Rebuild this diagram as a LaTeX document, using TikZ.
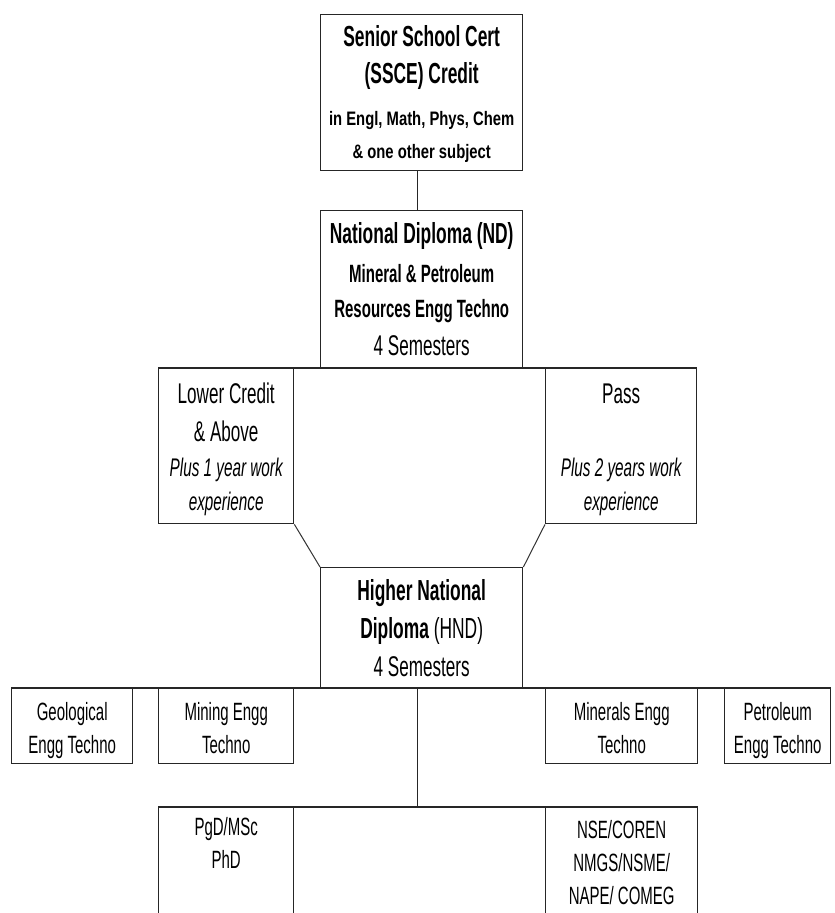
\documentclass[tikz,border=0pt]{standalone}
\usepackage{fontspec}
\setmainfont{Liberation Sans}[FakeStretch=0.6]
\newfontfamily\wideface{Liberation Sans}[FakeStretch=0.76]
\usetikzlibrary{positioning}

\tikzstyle{box}=[draw=black!85,line width=1.4pt,inner sep=0pt,anchor=north west]
\tikzstyle{edge}=[draw=black!85,line width=1.4pt,-]
\tikzstyle{slant edge}=[draw=black!80,line width=1pt,-]
\tikzstyle{caption}=[anchor=base,align=center,inner sep=0pt]

\def\boxes{{(320,14)/202/156/ssce}, {(320,210)/202/158/nd}, {(158,368)/135/155/lower}, {(545,368)/151/155/pass}, {(320,567)/202/121/hnd}, {(11,688)/121/75/geo}, {(158,688)/135/75/mining}, {(545,688)/152/75/minerals}, {(724,688)/106/75/petro}, {(158,807)/135/140/pgd}, {(545,807)/152/140/nse}}

\begin{document}
\begin{tikzpicture}[x=1pt,y=-1pt]
  \useasboundingbox (0,0) rectangle (835,913);
  \clip (0,0) rectangle (835,913);

  % First we draw the boxes
  \foreach \pos/\w/\h/\name in \boxes
    \node[box,minimum width=\w pt,minimum height=\h pt] (\name) at \pos {};

  % Connect the boxes
  \path[edge] ([xshift=-4pt]ssce.south) -- ([xshift=-4pt]nd.north);
  \path[edge] (lower.north west) -- (pass.north east);
  \path[slant edge] (lower.south east) -- (hnd.north west);
  \path[slant edge] (pass.south west) -- (hnd.north east);
  \path[edge] (geo.north west) -- (petro.north east);
  \path[edge] ([xshift=-4pt]hnd.south) -- ([xshift=-4pt]hnd.south |- pgd.north);
  \path[edge] (pgd.north west) -- (nse.north east);

  % Then the texts in the boxes (placed by their last line)
  \node[caption,font=\fontsize{29}{37}\selectfont\bfseries] (ssce-text) at ([yshift=-144pt]ssce.north)
    {Senior School Cert\\(SSCE) Credit\\[5pt]{\wideface\fontsize{19.5}{33}\selectfont in Engl, Math, Phys, Chem}\\[-4pt]{\wideface\fontsize{19.5}{33}\selectfont \& one other subject}};
  \node[caption,font=\fontsize{29}{36}\selectfont\bfseries] (nd-text) at ([yshift=-145pt]nd.north)
    {National Diploma (ND)\\[3pt]{\fontsize{25}{36}\selectfont Mineral \& Petroleum}\\[-1pt]{\fontsize{25}{36}\selectfont Resources Engg Techno}\\[2pt]{\mdseries\fontsize{28.5}{36}\selectfont 4 Semesters}};
  \node[caption,font=\fontsize{28.5}{33}\selectfont] (lower-text) at ([yshift=-142pt]lower.north)
    {Lower Credit\\[5pt]\& Above\\[2pt]{\itshape\fontsize{25.5}{33}\selectfont Plus 1 year work}\\[1pt]{\itshape\fontsize{25.5}{33}\selectfont experience}};
  \node[caption,font=\fontsize{28.5}{33}\selectfont] (pass-text) at ([yshift=-142pt]pass.north)
    {Pass\\[40pt]{\itshape\fontsize{25.5}{33}\selectfont Plus 2 years work}\\[1pt]{\itshape\fontsize{25.5}{33}\selectfont experience}};
  \node[caption,font=\fontsize{29}{38}\selectfont\bfseries] (hnd-text) at ([yshift=-109pt]hnd.north)
    {Higher National\\Diploma {\mdseries (HND)}\\[0pt]{\mdseries\fontsize{28.5}{36}\selectfont 4 Semesters}};
  \node[caption,font=\fontsize{25}{33}\selectfont] (geo-text) at ([yshift=-65pt]geo.north) {Geological\\Engg Techno};
  \node[caption,font=\fontsize{25}{33}\selectfont] (mining-text) at ([yshift=-65pt]mining.north) {Mining Engg\\Techno};
  \node[caption,font=\fontsize{25}{33}\selectfont] (minerals-text) at ([yshift=-65pt]minerals.north) {Minerals Engg\\Techno};
  \node[caption,font=\fontsize{25}{33}\selectfont] (petro-text) at ([yshift=-65pt]petro.north) {Petroleum\\Engg Techno};
  \node[caption,font=\fontsize{25}{33}\selectfont] (pgd-text) at ([yshift=-61pt]pgd.north) {PgD/MSc\\PhD};
  \node[caption,font=\fontsize{25}{33}\selectfont] (nse-text) at ([yshift=-97pt]nse.north) {NSE/COREN\\NMGS/NSME/\\NAPE/ COMEG};
\end{tikzpicture}
\end{document}
